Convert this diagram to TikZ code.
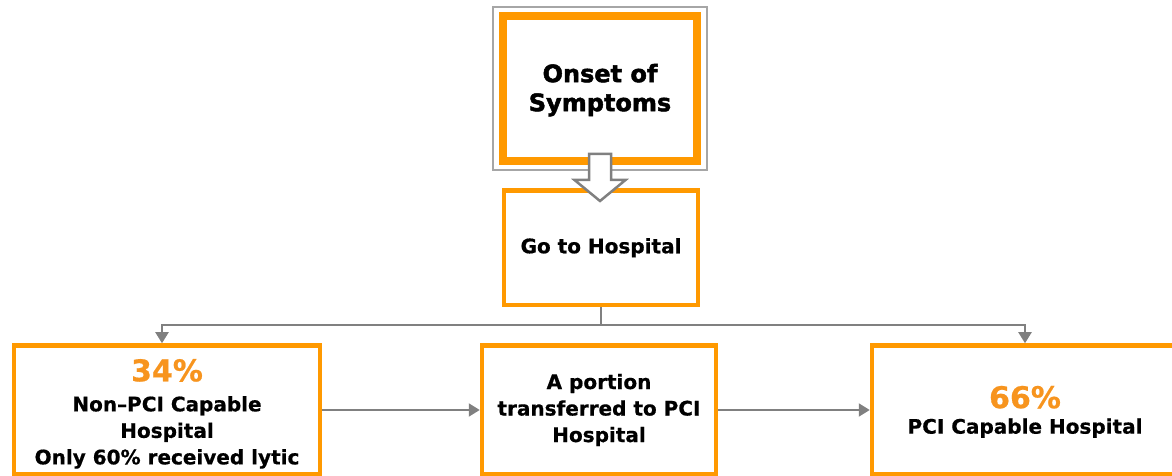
\documentclass[tikz,border=0pt]{standalone}
\usepackage{fontspec}
\setmainfont{DejaVu Sans}[BoldFeatures={FakeBold=0.6}]
\newfontface\heavyfont{DejaVu Sans Bold}[FakeBold=2]
\usetikzlibrary{
	arrows.meta,
	positioning
}
\definecolor{BoxOrange}{RGB}{255,153,0}
\definecolor{PctOrange}{RGB}{247,148,30}
\definecolor{LinkGray}{RGB}{128,128,128}

\begin{document}
\begin{tikzpicture}[x=1pt, y=1pt,
		box/.style={draw=BoxOrange, line width=4.5pt, fill=white, align=center, inner sep=0pt,
			font=\bfseries\fontsize{20}{26.5}\selectfont},
		link/.style={draw=LinkGray, line width=2pt}
	]
		\useasboundingbox (0,0) rectangle (1172,476);
		\clip (0,0) rectangle (1172,476);

		% top box with its thin grey frame
		\node[box, line width=8pt, outer sep=0pt, minimum width=194, minimum height=145.5,
			font=\heavyfont\fontsize{24}{29}\selectfont] (onset) at (600,387.25) {\rule{0pt}{21pt}Onset of\\Symptoms};
		\draw[LinkGray!70, line width=1.5pt] ([shift={(-10,9)}]onset.north west) rectangle ([shift={(10,-8.5)}]onset.south east);

		\node[box, minimum width=194, minimum height=114.5] (hosp) at (601,228.25) {Go to Hospital};

		% bottom row
		\node[box, minimum width=306, minimum height=129] (nonpci) at (167,66)
			{\rule{0pt}{30pt}\textcolor{PctOrange}{\fontsize{30}{30}\selectfont 34\%}\\[3.5pt]Non--PCI Capable\\Hospital\\Only 60\% received lytic};
		\node[box, minimum width=234, minimum height=129] (transfer) at (599,66)
			{A portion\\transferred to PCI\\Hospital};
		\node[box, minimum width=306, minimum height=129] (pcicap) at (1025,66)
			{\rule{0pt}{26pt}\textcolor{PctOrange}{\fontsize{30}{30}\selectfont 66\%}\\[-1pt]PCI Capable Hospital};

		% block arrow
		\draw[LinkGray, line width=2.5pt, fill=white, line join=miter]
			(589,322) -- (611,322) -- (611,296) -- (625.5,296) -- (600,275)
			-- (574.5,296) -- (589,296) -- cycle;

		% connectors
		\draw[link] (hosp.south) -- ++(0,-18) coordinate (split);
		\draw[link, -{Triangle[length=11pt, width=13pt]}] (split) -| ([xshift=-5]nonpci.north);
		\draw[link, -{Triangle[length=11pt, width=13pt]}] (split) -| (pcicap.north);
		\draw[link, -{Triangle[length=11pt, width=13pt]}] (nonpci.east) -- (transfer.west);
		\draw[link, -{Triangle[length=11pt, width=13pt]}] (transfer.east) -- (pcicap.west);
	\end{tikzpicture}
\end{document}
